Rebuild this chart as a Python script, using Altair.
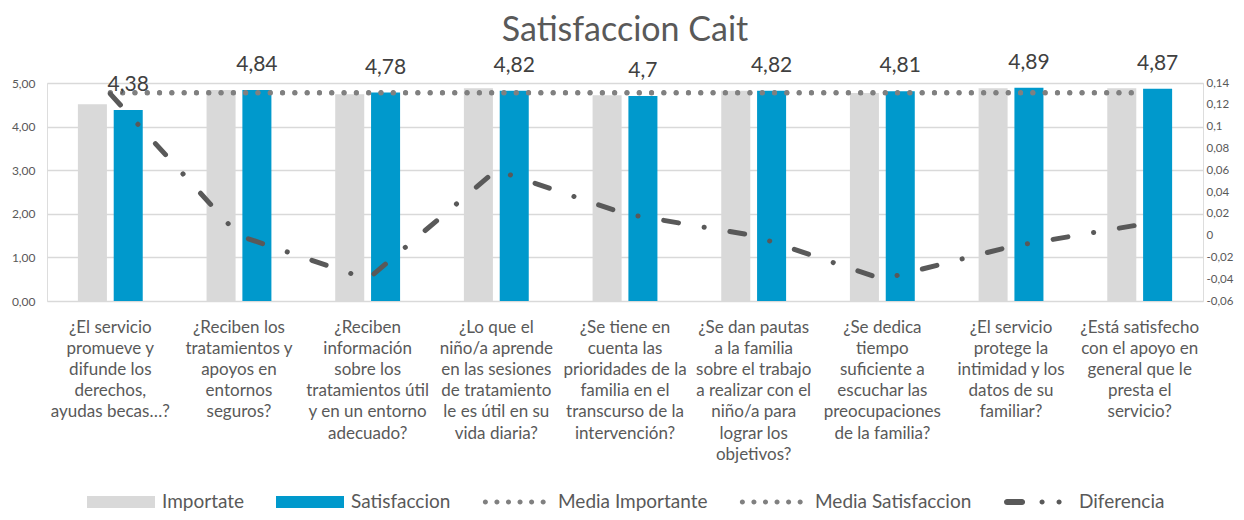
import altair as alt
import pandas as pd

FONT = "Lato"
TXT = "#595959"

CATEGORIAS = [
    "¿El servicio|promueve y|difunde los|derechos,|ayudas becas…?",
    "¿Reciben los|tratamientos y|apoyos en|entornos|seguros?",
    "¿Reciben|información|sobre los|tratamientos útil|y en un entorno|adecuado?",
    "¿Lo que el|niño/a aprende|en las sesiones|de tratamiento|le es útil en su|vida diaria?",
    "¿Se tiene en|cuenta las|prioridades de la|familia en el|transcurso de la|intervención?",
    "¿Se dan pautas|a la familia|sobre el trabajo|a realizar con el|niño/a para|lograr los|objetivos?",
    "¿Se dedica|tiempo|suficiente a|escuchar las|preocupaciones|de la familia?",
    "¿El servicio|protege la|intimidad y los|datos de su|familiar?",
    "¿Está satisfecho|con el apoyo en|general que le|presta el|servicio?",
]
IMPORTANTE = [4.51, 4.84, 4.74, 4.88, 4.72, 4.82, 4.77, 4.88, 4.88]
SATISFACCION = [4.38, 4.84, 4.78, 4.82, 4.70, 4.82, 4.81, 4.89, 4.87]
DIFERENCIA = [0.13, 0.00, -0.04, 0.06, 0.02, 0.00, -0.04, -0.01, 0.01]
MEDIA_IMPORTANTE = 4.78
MEDIA_SATISFACCION = 4.77

SERIES = ["Importate", "Satisfaccion", "Media Importante", "Media Satisfaccion", "Diferencia"]
COLORES = ["#d9d9d9", "#0099cc", "#808080", "#808080", "#595959"]
BARRAS = SERIES[:2]

LEFT_TICKS = [0, 0.5, 1, 1.5, 2, 2.5, 3, 3.5, 4, 4.5, 5]
RIGHT_TICKS = [-0.06, -0.04, -0.02, 0, 0.02, 0.04, 0.06, 0.08, 0.1, 0.12, 0.14]

rows = []
for c, a, b in zip(CATEGORIAS, IMPORTANTE, SATISFACCION):
    rows.append({"cat": c, "serie": "Importate", "valor": a})
    rows.append({"cat": c, "serie": "Satisfaccion", "valor": b})
bars_df = pd.DataFrame(rows)

lab_df = pd.DataFrame({
    "cat": CATEGORIAS,
    "serie": "Satisfaccion",
    "valor": SATISFACCION,
    "etiqueta": [f"{v:g}".replace(".", ",") for v in SATISFACCION],
})

media_rows = []
for c in CATEGORIAS:
    media_rows.append({"cat": c, "serie": "Media Importante", "valor": MEDIA_IMPORTANTE})
    media_rows.append({"cat": c, "serie": "Media Satisfaccion", "valor": MEDIA_SATISFACCION})
media_df = pd.DataFrame(media_rows)

diff_df = pd.DataFrame({"cat": CATEGORIAS, "serie": "Diferencia", "valor": DIFERENCIA})

# ---- legend symbol shapes (unit coords, scaled by sqrt(symbolSize)/2) ----
def circle(cx, r):
    return f"M{cx - r:.3f},0A{r},{r} 0 1,0 {cx + r:.3f},0A{r},{r} 0 1,0 {cx - r:.3f},0Z"

RECT = "M-1,-0.176H1V0.176H-1Z"
DOTS = "".join(circle(-0.93 + 0.34 * k, 0.075) for k in range(6))
DASH = ("M-0.91,-0.09H-0.47A0.09,0.09 0 0,1 -0.47,0.09H-0.91A0.09,0.09 0 0,1 -0.91,-0.09Z"
        + circle(0.12, 0.075) + circle(0.62, 0.075))

shape_expr = (
    "indexof(['Importate','Satisfaccion'], datum.value) >= 0 ? '" + RECT + "' : "
    "datum.value == 'Diferencia' ? '" + DASH + "' : '" + DOTS + "'"
)
fill_expr = "'" + COLORES[-1] + "'"
for s, c in zip(SERIES[:-1][::-1], COLORES[:-1][::-1]):
    fill_expr = f"datum.value == '{s}' ? '{c}' : ({fill_expr})"

legend = alt.Legend(
    title=None,
    values=SERIES,
    orient="none",
    legendX=40,
    legendY=385,
    direction="horizontal",
    labelFont=FONT,
    labelFontSize=19,
    labelColor=TXT,
    labelOffset=7,
    columnPadding=31,
    symbolSize=4624,
    symbolType=alt.ExprRef(expr=shape_expr),
    symbolFillColor=alt.ExprRef(expr=fill_expr),
    symbolStrokeColor="transparent",
    symbolStrokeWidth=0,
)

x_enc = alt.X(
    "cat:N",
    sort=CATEGORIAS,
    scale=alt.Scale(paddingInner=0.496, paddingOuter=0.24),
    axis=alt.Axis(
        title=None,
        labelExpr="split(datum.label, '|')",
        labelAngle=0,
        domain=False,
        ticks=False,
        labelFont=FONT,
        labelFontSize=17,
        labelColor=TXT,
        labelLineHeight=21.2,
        labelPadding=18,
        labelBaseline="top",
        labelLimit=0,
    ),
)

y_left = alt.Y(
    "valor:Q",
    scale=alt.Scale(domain=[0, 5], nice=False, zero=False),
    axis=alt.Axis(
        title=None,
        values=LEFT_TICKS,
        labelExpr="replace(format(datum.value, '.2f'), '.', ',')",
        domain=False,
        ticks=False,
        grid=True,
        gridColor="#d9d9d9",
        gridWidth=1.5,
        labelFont=FONT,
        labelFontSize=12,
        labelColor=TXT,
        labelPadding=12,
    ),
)

color_enc = alt.Color(
    "serie:N",
    scale=alt.Scale(domain=SERIES, range=COLORES),
    legend=None,
)

bars = alt.Chart(bars_df).mark_bar().encode(
    x=x_enc,
    xOffset=alt.XOffset("serie:N", sort=BARRAS, scale=alt.Scale(domain=BARRAS, paddingInner=0.19, paddingOuter=0)),
    y=y_left,
    color=color_enc,
    opacity=alt.Opacity(
        "serie:O",
        scale=alt.Scale(domain=SERIES + ["_"], range=[1, 1, 1, 1, 1, 1]),
        legend=legend,
    ),
)

labels = alt.Chart(lab_df).mark_text(
    dy=-25, fontSize=21, font=FONT, color="#404040", baseline="middle"
).encode(
    x=alt.X("cat:N", sort=CATEGORIAS),
    xOffset=alt.XOffset("serie:N", sort=BARRAS, scale=alt.Scale(domain=BARRAS)),
    y=alt.Y("valor:Q"),
    text="etiqueta:N",
)

medias = alt.Chart(media_df).mark_line(
    strokeDash=[0.1, 12.2], strokeCap="round", strokeWidth=5
).encode(
    x=alt.X("cat:N", sort=CATEGORIAS),
    y=alt.Y("valor:Q"),
    color=alt.Color("serie:N", legend=None),
    detail="serie:N",
)

left = alt.layer(bars, medias, labels)

diff = alt.Chart(diff_df).mark_line(
    strokeDash=[15, 26, 0.1, 26], strokeCap="round", strokeWidth=5
).encode(
    x=alt.X("cat:N", sort=CATEGORIAS),
    y=alt.Y(
        "valor:Q",
        scale=alt.Scale(domain=[-0.06, 0.14], nice=False, zero=False),
        axis=alt.Axis(
            title=None,
            orient="right",
            values=RIGHT_TICKS,
            labelExpr="replace(replace(format(datum.value, '.2~f'), '.', ','), '\u2212', '-')",
            domain=False,
            ticks=False,
            grid=False,
            labelFont=FONT,
            labelFontSize=11.5,
            labelColor=TXT,
            labelPadding=3,
        ),
    ),
    color=alt.Color("serie:N", legend=None),
)

chart = alt.layer(left, diff).resolve_scale(y="independent").properties(
    width=1156,
    height=218,
    autosize=alt.AutoSizeParams(type="none"),
    padding={"left": 39, "top": 75, "right": 33, "bottom": 211},
    title=alt.TitleParams(
        text="Satisfaccion Cait",
        font=FONT,
        fontSize=34,
        fontWeight="normal",
        color=TXT,
        anchor="middle",
        offset=4,
    ),
).configure_view(stroke=None).configure(background="white")

chart.save("out.html", embed_options={"renderer": "svg", "actions": False})
